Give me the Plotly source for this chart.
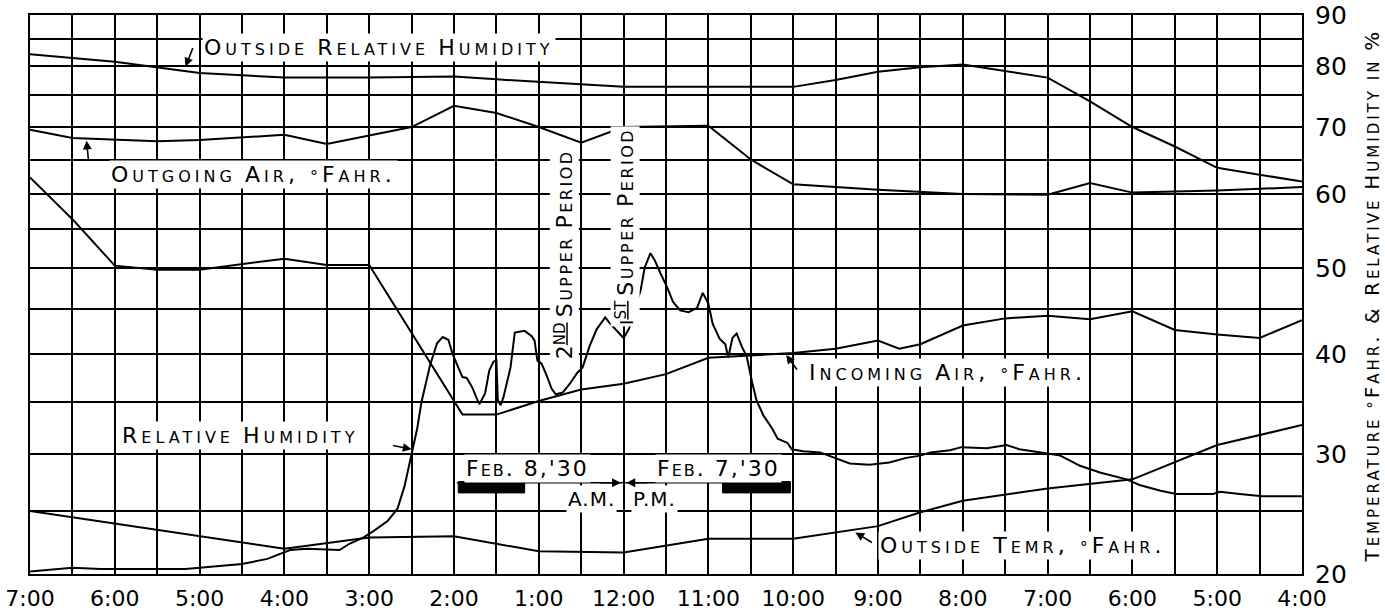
import numpy as np
import pandas as pd
import plotly.graph_objects as go

# ---------------- data ----------------
# clock times; 16:00-23:59 belong to Feb 7 1930, 00:00-07:00 to Feb 8 1930
ORH_TIMES = ["07:00", "06:00", "05:00", "04:00", "03:00", "02:00", "01:30", "00:30", "00:00",
             "22:00", "21:30", "21:00", "20:30", "20:00", "19:30", "19:00", "18:30", "18:00",
             "17:30", "17:00", "16:30", "16:00"]
OUTSIDE_RH = [82.2, 80.8, 78.8, 78.0, 78.0, 78.2, 77.7, 76.9, 76.4,
              76.4, 77.6, 79.0, 79.8, 80.3, 79.2, 78.0, 74.0, 70.0,
              67.0, 63.8, 62.8, 61.8]

OA_TIMES = ["07:00", "06:30", "05:30", "05:00", "04:00", "03:30", "02:30", "02:00", "01:30",
            "01:00", "00:30", "00:00", "23:00", "22:30", "22:00", "21:00", "20:00", "19:00",
            "18:30", "18:00", "17:00", "16:00"]
OUTGOING_AIR = [69.6, 68.3, 67.8, 68.0, 68.8, 67.4, 70.0, 73.3, 72.2,
                70.0, 67.6, 70.0, 70.2, 65.0, 61.4, 60.6, 60.0, 59.9,
                61.6, 60.2, 60.5, 61.0]

IA_TIMES = ["07:00", "06:30", "06:00", "05:30", "05:00", "04:00", "03:30", "03:00", "01:54",
            "01:30", "01:00", "00:30", "00:00", "23:30", "23:00", "22:00", "21:30", "21:00",
            "20:45", "20:30", "20:00", "19:30", "19:00", "18:30", "18:00", "17:30", "17:00",
            "16:30", "16:00"]
INCOMING_AIR = [62.4, 56.4, 50.3, 49.8, 49.8, 51.2, 50.4, 50.4, 33.8,
                33.8, 35.1, 36.3, 36.9, 37.9, 39.6, 40.1, 40.6, 41.5,
                40.6, 41.1, 43.2, 44.0, 44.3, 43.9, 44.8, 42.7, 42.2,
                41.8, 43.8]

OT_TIMES = ["07:00", "04:00", "03:00", "02:00", "01:00", "00:00", "23:00", "22:00", "21:00",
            "20:30", "20:00", "19:00", "18:00", "17:00", "16:00"]
OUTSIDE_TEMP = [25.0, 22.0, 22.9, 23.0, 21.8, 21.7, 22.8, 22.8, 23.8,
                24.9, 25.9, 27.0, 27.8, 30.9, 32.8]

RH_TIMES = ["07:00", "06:30", "06:10", "05:10", "04:30", "04:12", "03:56", "03:44", "03:21", "03:14",
            "03:04", "02:57", "02:47", "02:40", "02:35", "02:30", "02:26", "02:23", "02:17", "02:12",
            "02:08", "02:04", "02:01", "01:57", "01:54", "01:51", "01:47", "01:44", "01:42", "01:38",
            "01:35", "01:32", "01:30", "01:29", "01:27", "01:25", "01:20", "01:17", "01:13", "01:10",
            "01:05", "01:03", "01:01", "00:58", "00:54", "00:51", "00:48", "00:43", "00:38", "00:33",
            "00:29", "00:24", "00:19", "00:13", "00:10", "00:05", "00:00", "23:56", "23:52", "23:48",
            "23:45", "23:41", "23:38", "23:34", "23:29", "23:25", "23:20", "23:14", "23:08", "23:04",
            "23:00", "22:57", "22:52", "22:48", "22:46", "22:43", "22:40", "22:36", "22:33", "22:29",
            "22:26", "22:21", "22:15", "22:11", "22:04", "22:01", "21:53", "21:41", "21:30", "21:20",
            "21:06", "20:52", "20:40", "20:30", "20:23", "20:09", "20:01", "19:43", "19:29", "19:20",
            "19:00", "18:51", "18:37", "18:23", "18:04", "17:55", "17:40", "17:29", "17:03", "16:58",
            "16:44", "16:28", "16:00"]
RELATIVE_HUMIDITY = [20.2, 20.5, 20.4, 20.4, 20.8, 21.2, 21.9, 22.0, 21.9, 22.4,
                     22.9, 23.4, 24.2, 25.2, 27.2, 30.0, 32.5, 35.0, 38.8, 41.2,
                     41.9, 41.6, 40.0, 38.6, 37.6, 37.5, 36.5, 35.4, 34.8, 35.9,
                     38.3, 39.2, 39.3, 35.2, 34.7, 35.5, 38.6, 42.4, 42.5, 42.6,
                     42.0, 41.5, 39.3, 39.0, 37.6, 36.4, 35.8, 36.0, 36.9, 38.0,
                     38.6, 40.9, 42.8, 44.1, 43.5, 42.6, 41.8, 42.9, 45.2, 47.3,
                     50.1, 51.9, 51.0, 49.4, 47.6, 45.9, 44.9, 44.7, 45.2, 47.0,
                     45.7, 43.4, 41.7, 41.1, 39.6, 41.8, 42.3, 40.7, 39.8, 37.0,
                     35.2, 33.7, 32.5, 31.5, 31.1, 30.5, 30.3, 30.2, 29.7, 29.2,
                     29.1, 29.3, 29.7, 29.9, 30.2, 30.4, 30.7, 30.6, 30.9, 30.5,
                     30.1, 29.9, 29.0, 28.4, 27.8, 27.3, 26.8, 26.5, 26.5, 26.7,
                     26.5, 26.3, 26.3]

# axis labels
TICK_LABELS = ["4:00", "", "5:00", "", "6:00", "", "7:00", "", "8:00", "", "9:00", "",
               "10:00", "", "11:00", "", "12:00", "", "1:00", "", "2:00", "", "3:00", "",
               "4:00", "", "5:00", "", "6:00", "", "7:00"]
GRID_VALUES = [20, 25, 30, 35, 40, 45, 50, 55, 60, 65, 70, 75, 80, 85, 90]
Y_LABELS = ["20", "", "30", "", "40", "", "50", "", "60", "", "70", "", "80", "", "90"]
# the chart paper's non-linear vertical scale (relative position of each ruled line)
GRID_POS = [0.0, 0.1127, 0.2138, 0.3077, 0.3936, 0.4732, 0.5474, 0.6172, 0.6798,
            0.7415, 0.7996, 0.8569, 0.9088, 0.9562, 1.0]

FONT = "DejaVu Sans"


def when(clock):
    day = "1930-02-07" if int(clock[:2]) >= 16 else "1930-02-08"
    return f"{day} {clock}"


def Y(v):
    return float(np.interp(v, GRID_VALUES, GRID_POS)) if np.isscalar(v) else np.interp(v, GRID_VALUES, GRID_POS)


def sc(text, big, small, spacing):
    """hand-lettered small caps: capitals/digits large, lower case as small capitals"""
    chunks = []
    for ch in text:
        if ch.islower() or ch == "°":
            size, c = small, ch.upper()
        elif ch == " " and chunks:
            size, c = chunks[-1][0], ch
        else:
            size, c = big, ch
        if ch == "&":
            c = "&amp;"
        if chunks and chunks[-1][0] == size:
            chunks[-1][1] += c
        else:
            chunks.append([size, c])
    return "".join(f'<span style="font-size:{s}px;letter-spacing:{spacing}px">{t}</span>'
                   for s, t in chunks)


fig = go.Figure()
for times, vals in [(ORH_TIMES, OUTSIDE_RH), (OA_TIMES, OUTGOING_AIR), (IA_TIMES, INCOMING_AIR),
                    (OT_TIMES, OUTSIDE_TEMP), (RH_TIMES, RELATIVE_HUMIDITY)]:
    fig.add_trace(go.Scatter(x=[when(t) for t in times], y=Y(np.array(vals, dtype=float)),
                             mode="lines", line=dict(color="black", width=2),
                             showlegend=False, hoverinfo="skip"))

tickvals = pd.date_range("1930-02-07 16:00", "1930-02-08 07:00", freq="30min")

ann = []


def label(t, v, text, xanchor="left", angle=0):
    ann.append(dict(x=when(t), y=Y(v), xref="x", yref="y", text=text, showarrow=False,
                    xanchor=xanchor, yanchor="middle", textangle=angle, bgcolor="white",
                    borderpad=1, font=dict(family=FONT, color="black", size=16)))


def arrow(t, v, ax, ay):
    ann.append(dict(x=when(t), y=Y(v), xref="x", yref="y", text="", showarrow=True,
                    ax=ax, ay=ay, arrowhead=2, arrowsize=1.1, arrowwidth=1.6,
                    arrowcolor="black"))


label("04:58", 83.5, sc("Outside Relative Humidity", 22, 16, 4))
arrow("05:10", 79.9, 8, -20)
label("06:04", 62.8, sc("Outgoing Air, °Fahr.", 22, 16, 4))
arrow("06:20", 67.9, 2, 20)
label("21:50", 38.1, sc("Incoming Air, °Fahr.", 22, 16, 4))
arrow("22:05", 39.9, 12, 16)
label("05:56", 31.8, sc("Relative Humidity", 22, 16, 4))
arrow("02:30", 30.5, -20, -4)
label("21:00", 22.3, sc("Outside Temr, °Fahr.", 22, 16, 4))
arrow("21:16", 23.3, 18, 11)

second = ('<span style="font-size:22px">2</span>'
          '<sup><u><span style="font-size:15px">ND</span></u></sup> '
          + sc("Supper Period", 22, 16, 2.5))
first = ('<span style="font-size:18px">I</span>'
         '<sup><u><span style="font-size:15px">ST</span></u></sup> '
         + sc("Supper Period", 22, 16, 2.5))
label("00:42", 51.8, second, xanchor="center", angle=-90)
label("23:59", 55.3, first, xanchor="center", angle=-90)

label("01:08", 28.8, sc("Feb. 8,'30", 22, 16, 2), xanchor="center")
label("22:53", 28.8, sc("Feb. 7,'30", 22, 16, 2), xanchor="center")
label("00:23", 26.1, sc("A.M.", 20, 20, 1), xanchor="center")
label("23:38", 26.1, sc("P.M.", 20, 20, 1), xanchor="center")
arrow("00:02", 27.5, -22, 0)
arrow("23:58", 27.5, 22, 0)

# right-hand axis title
ann.append(dict(x=1.055, y=0.498, xref="paper", yref="paper", showarrow=False, textangle=-90,
                xanchor="center", yanchor="middle",
                text=sc("Temperature °Fahr. & Relative Humidity in %", 20, 15, 3),
                font=dict(family=FONT, color="black", size=15)))

shapes = [
    dict(type="line", xref="x", yref="y", x0=when("01:58"), x1=when("22:02"),
         y0=Y(27.5), y1=Y(27.5), line=dict(color="black", width=1.6)),
    dict(type="rect", xref="x", yref="y", x0=when("01:57"), x1=when("01:10"),
         y0=Y(26.6), y1=Y(27.6), fillcolor="black", line=dict(color="black", width=1)),
    dict(type="rect", xref="x", yref="y", x0=when("22:50"), x1=when("22:02"),
         y0=Y(26.6), y1=Y(27.6), fillcolor="black", line=dict(color="black", width=1)),
]

fig.update_layout(
    width=1385, height=615,
    margin=dict(l=30, r=83, t=15, b=41),
    paper_bgcolor="white", plot_bgcolor="white",
    font=dict(family=FONT, color="black"),
    annotations=ann, shapes=shapes,
    xaxis=dict(type="date", range=[when("07:00"), when("16:00")], automargin=False,
               tickmode="array", tickvals=list(tickvals), ticktext=TICK_LABELS,
               showgrid=True, gridcolor="black", gridwidth=1.6, zeroline=False,
               showline=True, linecolor="black", linewidth=2, mirror=True,
               ticks="", ticklabelstandoff=4, ticklabeloverflow="allow",
               tickfont=dict(size=22, family=FONT, color="black")),
    yaxis=dict(range=[0, 1], side="right", automargin=False,
               tickmode="array", tickvals=GRID_POS, ticktext=Y_LABELS,
               showgrid=True, gridcolor="black", gridwidth=1.6, zeroline=False,
               showline=True, linecolor="black", linewidth=2, mirror=True,
               ticks="", ticklabelstandoff=6, ticklabeloverflow="allow",
               tickfont=dict(size=25, family=FONT, color="black")),
)

# remove the browser's default 8px page margin so the figure fills the window exactly
fig.write_html("out.html", config={"displayModeBar": False},
               post_script="document.body.style.margin='0';")
